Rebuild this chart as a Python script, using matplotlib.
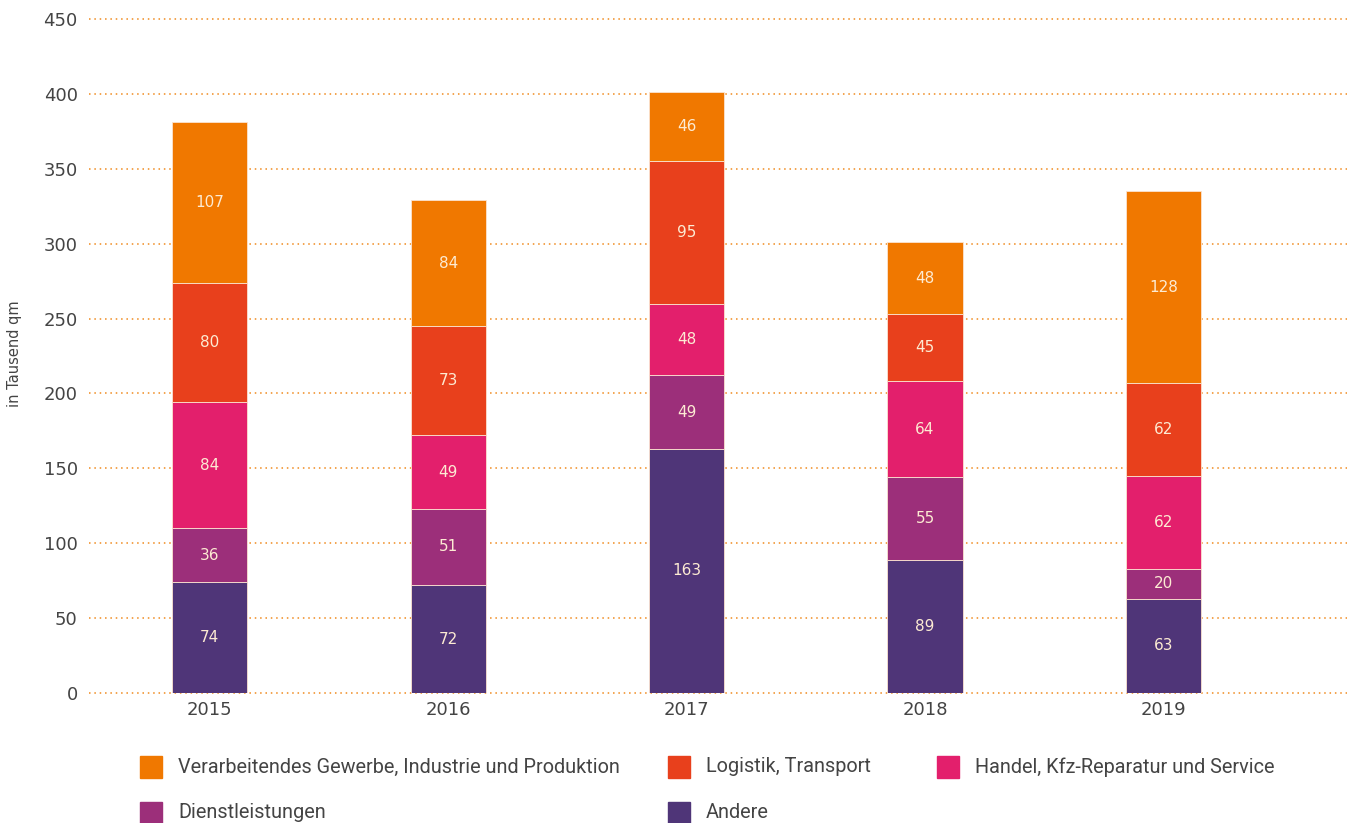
import matplotlib.pyplot as plt
from matplotlib.patches import Rectangle
import numpy as np

years = ["2015", "2016", "2017", "2018", "2019"]
andere = [74, 72, 163, 89, 63]
dienst = [36, 51, 49, 55, 20]
handel = [84, 49, 48, 64, 62]
logistik = [80, 73, 95, 45, 62]
verarb = [107, 84, 46, 48, 128]

series = [
    ("Andere", andere, "#4f3578"),
    ("Dienstleistungen", dienst, "#9c2f7a"),
    ("Handel, Kfz-Reparatur und Service", handel, "#e31f6c"),
    ("Logistik, Transport", logistik, "#e8401c"),
    ("Verarbeitendes Gewerbe, Industrie und Produktion", verarb, "#f07800"),
]
colors = {n: c for n, _, c in series}

W, H = 1347, 823
fig = plt.figure(figsize=(W / 100, H / 100), dpi=100)
ax = fig.add_axes([0.066, 0.158, 0.934, 0.819])

x = np.arange(len(years))
bottom = np.zeros(len(years))
for name, vals, col in series:
    ax.bar(x, vals, width=0.315, bottom=bottom, color=col,
           edgecolor="#fbe3d0", linewidth=0.6, zorder=3, label=name)
    for xi, v, bt in zip(x, vals, bottom):
        ax.text(xi, bt + v / 2, str(v), ha="center", va="center",
                color="#fdebd3", fontsize=11, zorder=4)
    bottom = bottom + np.array(vals)

ax.set_xlim(-0.507, 4.77)
ax.set_ylim(0, 450)
ax.set_yticks(np.arange(0, 451, 50))
ax.set_xticks(x)
ax.set_xticklabels(years)
ax.grid(axis="y", color="#f08a1e", linestyle=(0, (1, 2.5)), linewidth=1.1, zorder=0)
for gl in ax.get_ygridlines():
    gl.set_clip_on(False)
for s in ax.spines.values():
    s.set_visible(False)
ax.tick_params(axis="both", length=0, colors="#444444", labelsize=13)
ax.tick_params(axis="y", pad=8)
ax.tick_params(axis="x", pad=6)
fig.text(0.011, 0.57, "in Tausend qm", rotation=90, ha="center", va="center",
         fontsize=10.5, color="#444444")

# legend laid out by hand: (name, square left px, row centre px)
legend_items = [
    ("Verarbeitendes Gewerbe, Industrie und Produktion", 140, 767),
    ("Logistik, Transport", 668, 767),
    ("Handel, Kfz-Reparatur und Service", 937, 767),
    ("Dienstleistungen", 140, 813),
    ("Andere", 668, 813),
]
sq = 22
for name, px, py in legend_items:
    fig.patches.append(Rectangle((px / W, (H - py - sq / 2) / H), sq / W, sq / H,
                                 transform=fig.transFigure, color=colors[name]))
    fig.text((px + 38) / W, (H - py) / H, name, ha="left", va="center",
             family="Roboto", fontsize=14.3, color="#444444")

fig.savefig("out.png", dpi=100)
